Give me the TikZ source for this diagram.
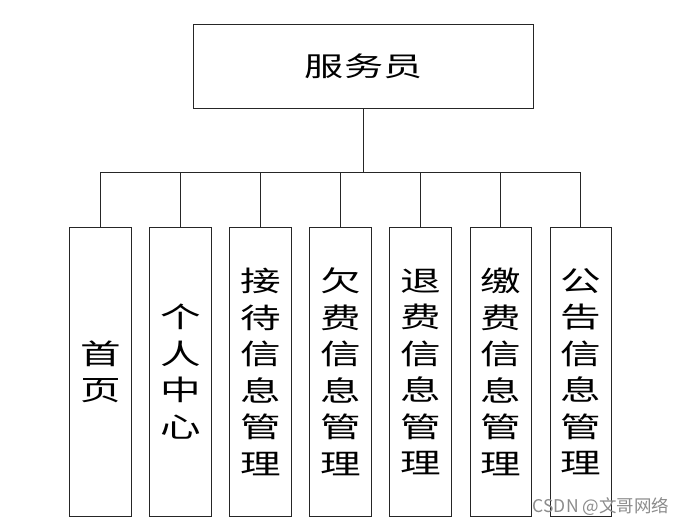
\documentclass[tikz,border=0pt]{standalone}
\usepackage{fontspec}
\newfontfamily\cjk[FakeStretch=1.45]{Noto Sans CJK SC}
\newfontfamily\cjkplain{Noto Sans CJK SC}
\begin{document}
\begin{tikzpicture}[x=1pt,y=-1pt,
  topbox/.style={draw=black!85,line width=1pt,minimum width=340pt,minimum height=84pt,inner sep=0pt,font=\cjk\fontsize{27}{27}\selectfont},
  colbox/.style={draw=black!85,line width=1pt,minimum width=61.5pt,minimum height=289pt,inner sep=0pt,align=center,font=\cjk\fontsize{28}{36.5}\selectfont},
  link/.style={draw=black!85,line width=0.9pt},
  wmark/.style={text=black!45,font=\cjkplain\fontsize{17.5}{17.5}\selectfont,inner sep=0pt}]
\useasboundingbox (0,0) rectangle (685,526);
\fill[white] (0,0) rectangle (685,526);
\node[topbox] (top) at (363.6,66.5) {服务员};
\coordinate (bus) at (363.6,172);
\node[colbox] (c1) at (100.7,371.8) {首\\页};
\node[colbox] (c2) at (180.5,371.8) {个\\人\\中\\心};
\node[colbox] (c3) at (260.6,371.8) {接\\待\\信\\息\\管\\理};
\node[colbox] (c4) at (340.5,371.8) {欠\\费\\信\\息\\管\\理};
\node[colbox] (c5) at (420.6,371.8) {退\\费\\信\\息\\管\\理};
\node[colbox] (c6) at (500.8,371.8) {缴\\费\\信\\息\\管\\理};
\node[colbox] (c7) at (580.8,371.8) {公\\告\\信\\息\\管\\理};
\draw[link] (top.south) -- (bus);
\foreach \i in {1,...,7}{\draw[link] (c\i.north) |- (bus);}
\node[wmark] (wm) at (601,507) {CSDN @文哥网络};
\end{tikzpicture}
\end{document}
